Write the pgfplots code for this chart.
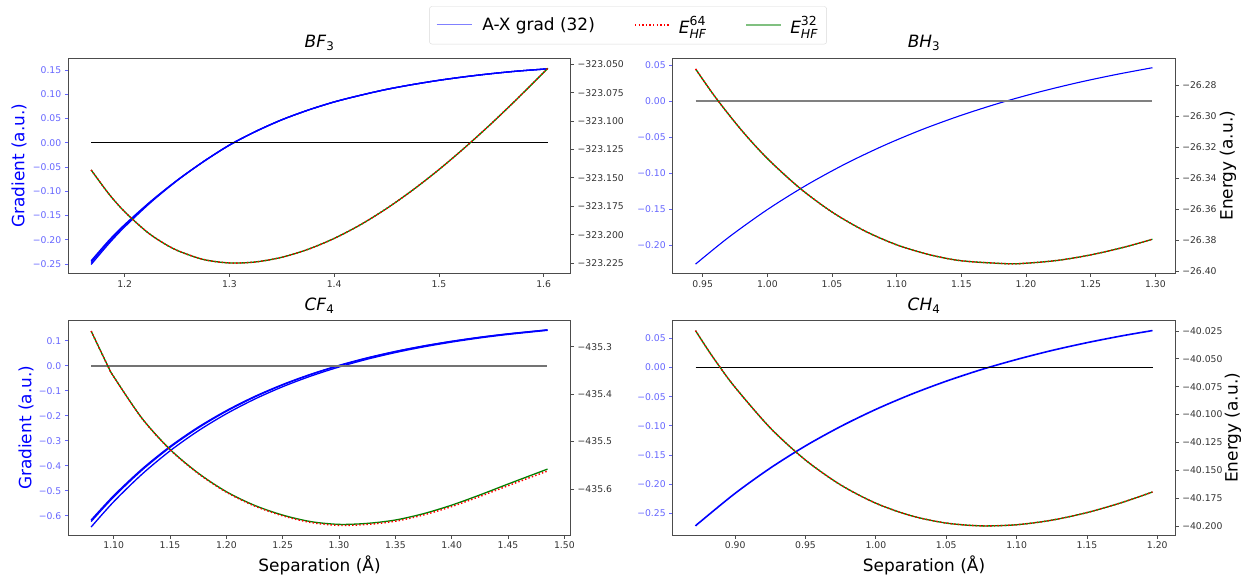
\documentclass[border=0pt]{standalone}
\usepackage{fontspec}
\setmainfont{DejaVu Sans}
\usepackage{pgfplots}
\pgfplotsset{compat=1.18}
\definecolor{mgreen}{RGB}{0,128,0}
\definecolor{lblue}{RGB}{128,128,255}
\definecolor{lgreen}{RGB}{128,192,128}
\newcommand{\ehf}[1]{\textit{E}\rlap{\raisebox{0.85ex}{\fontsize{12.5}{12.5}\selectfont #1}}\raisebox{-0.55ex}{\fontsize{12.5}{12.5}\selectfont\textit{HF}}}
\begin{document}
\begin{tikzpicture}
\pgfplotsset{
 base/.style={scale only axis, anchor=south west, tick align=outside,
   major tick length=3.5bp, axis line style={black!70, line width=0.8bp},
   tick style={line width=0.8bp},
   ticklabel style={font=\fontsize{9.3}{11}\selectfont},
   title style={font=\fontsize{17}{20}\selectfont},
   label style={font=\fontsize{17}{20}\selectfont}},
 gaxis/.style={base, xtick pos=left, ytick pos=left, yticklabel style={text=blue!60},
   ytick style={color=blue!60}, xticklabel style={text=black!80}, xtick style={color=black!70}},
 eaxis/.style={base, axis x line=none, axis y line*=right, ytick pos=right,
   yticklabel style={text=black!80}, ytick style={color=black!70}},
 grad/.style={blue, line width=1.3bp, smooth},
 e32/.style={mgreen, line width=1.3bp, smooth},
 e64/.style={red, line width=1.5bp, dash pattern=on 1.4bp off 2.2bp, smooth},
 legax/.style={hide axis, scale only axis, anchor=south west, at={(68.3bp,301.7bp)},
   width=502.4bp, height=215bp, xmin=0, xmax=1, ymin=0, ymax=1},
}
% ---------------- legend box and texts ----------------
\begin{axis}[legax,
  legend columns=3,
  legend style={at={(1.1141,1.1535)}, anchor=center, draw=black!15, rounded corners=2.5bp,
    fill=white, font=\fontsize{17}{20}\selectfont, inner xsep=9bp, inner ysep=8.5bp,
    nodes={inner xsep=0bp, inner ysep=1bp},
    /tikz/every odd column/.append style={column sep=9bp},
    /tikz/every even column/.append style={column sep=40bp}},
  legend image code/.code={\path (0bp,-1bp) rectangle (35bp,1bp);}]
\addlegendimage{draw=none}\addlegendentry{A-X grad (32)}
\addlegendimage{draw=none}\addlegendentry{\ehf{64}}
\addlegendimage{draw=none}\addlegendentry{\ehf{32}}
\end{axis}
% ---------------- legend handles (drawn as plots over the legend) ----------------
\begin{axis}[legax, clip=false]
\addplot[lblue, line width=1.3bp] coordinates {(0.7333,1.156) (0.8029,1.156)};
\addplot[red, line width=1.5bp, dash pattern=on 1.4bp off 2.2bp] coordinates {(1.1280,1.156) (1.1977,1.156)};
\addplot[lgreen, line width=1.5bp] coordinates {(1.3489,1.156) (1.4186,1.156)};
\end{axis}
% ---------------- BF3 ----------------
\begin{axis}[gaxis, at={(68.3bp,301.7bp)}, width=502.4bp, height=215bp,
  xmin=1.1462, xmax=1.6258, ymin=-0.2692, ymax=0.1741,
  xtick={1.2,1.3,1.4,1.5,1.6}, xticklabels={1.2,1.3,1.4,1.5,1.6},
  ytick={-0.25,-0.2,-0.15,-0.1,-0.05,0,0.05,0.1,0.15},
  yticklabels={−0.25,−0.20,−0.15,−0.10,−0.05,0.00,0.05,0.10,0.15},
  ylabel={Gradient (a.u.)}, ylabel style={text=blue, at={(axis description cs:-0.0981,0.5)}, anchor=center},
  title={\textit{BF}\textsubscript{3}}, title style={at={(axis description cs:0.5,1.0233)}, anchor=base}]
\addplot[grad] coordinates {(1.168,-0.2435) (1.185,-0.2013) (1.20,-0.1688) (1.225,-0.1206) (1.25,-0.0776) (1.275,-0.0393) (1.30,-0.0049) (1.325,0.0232) (1.35,0.0473) (1.375,0.0672) (1.40,0.0841) (1.425,0.0978) (1.45,0.1100) (1.475,0.1200) (1.50,0.1287) (1.525,0.1361) (1.55,0.1424) (1.575,0.1477) (1.604,0.1524)};
\addplot[grad] coordinates {(1.168,-0.247) (1.185,-0.2043) (1.20,-0.171) (1.225,-0.1216) (1.25,-0.0779) (1.275,-0.0393) (1.30,-0.0049) (1.325,0.0232) (1.35,0.0473) (1.375,0.0672) (1.40,0.0841) (1.425,0.0978) (1.45,0.1100) (1.475,0.1200) (1.50,0.1287) (1.525,0.1361) (1.55,0.1424) (1.575,0.1477) (1.604,0.1524)};
\addplot[grad] coordinates {(1.168,-0.251) (1.185,-0.2078) (1.20,-0.1735) (1.225,-0.1228) (1.25,-0.0782) (1.275,-0.0393) (1.30,-0.0049) (1.325,0.0232) (1.35,0.0473) (1.375,0.0672) (1.40,0.0841) (1.425,0.0978) (1.45,0.1100) (1.475,0.1200) (1.50,0.1287) (1.525,0.1361) (1.55,0.1424) (1.575,0.1477) (1.604,0.1524)};
\addplot[black, line width=1bp] coordinates {(1.168,0) (1.604,0)};
\end{axis}
\begin{axis}[eaxis, at={(68.3bp,301.7bp)}, width=502.4bp, height=215bp,
  xmin=1.1462, xmax=1.6258, ymin=-323.234, ymax=-323.0447,
  ytick={-323.225,-323.2,-323.175,-323.15,-323.125,-323.1,-323.075,-323.05},
  yticklabels={−323.225,−323.200,−323.175,−323.150,−323.125,−323.100,−323.075,−323.050}]
\addplot[e32] coordinates {(1.168,-323.143) (1.185,-323.1642) (1.20,-323.1798) (1.22,-323.1966) (1.234,-323.2057) (1.25,-323.2138) (1.275,-323.2218) (1.30,-323.2249) (1.325,-323.224) (1.35,-323.2199) (1.375,-323.2129) (1.40,-323.2033) (1.425,-323.1913) (1.45,-323.177) (1.475,-323.1607) (1.50,-323.1427) (1.525,-323.1231) (1.55,-323.1022) (1.575,-323.0801) (1.604,-323.0535)};
\addplot[e64] coordinates {(1.168,-323.143) (1.185,-323.1642) (1.20,-323.1798) (1.22,-323.1966) (1.234,-323.2057) (1.25,-323.2138) (1.275,-323.2218) (1.30,-323.2249) (1.325,-323.224) (1.35,-323.2199) (1.375,-323.2129) (1.40,-323.2033) (1.425,-323.1913) (1.45,-323.177) (1.475,-323.1607) (1.50,-323.1427) (1.525,-323.1231) (1.55,-323.1022) (1.575,-323.0801) (1.604,-323.0535)};
\end{axis}
% ---------------- BH3 ----------------
\begin{axis}[gaxis, at={(672.7bp,301.7bp)}, width=502.6bp, height=215bp,
  xmin=0.9268, xmax=1.3154, ymin=-0.2393, ymax=0.0593,
  xtick={0.95,1.0,1.05,1.1,1.15,1.2,1.25,1.3}, xticklabels={0.95,1.00,1.05,1.10,1.15,1.20,1.25,1.30},
  ytick={-0.2,-0.15,-0.1,-0.05,0,0.05},
  yticklabels={−0.20,−0.15,−0.10,−0.05,0.00,0.05},
  title={\textit{BH}\textsubscript{3}}, title style={at={(axis description cs:0.5,1.0233)}, anchor=base}]
\addplot[grad, line width=1.1bp] coordinates {(0.9445,-0.2265) (0.97,-0.1894) (1.00,-0.1508) (1.03,-0.1171) (1.06,-0.0876) (1.09,-0.0619) (1.12,-0.0394) (1.15,-0.0198) (1.18,-0.0026) (1.21,0.0124) (1.24,0.0255) (1.27,0.0369) (1.2977,0.0462)};
\addplot[black!50, line width=2bp] coordinates {(0.9445,0) (1.2977,0)};
\end{axis}
\begin{axis}[eaxis, at={(672.7bp,301.7bp)}, width=502.6bp, height=215bp,
  xmin=0.9268, xmax=1.3154, ymin=-26.4015, ymax=-26.2625,
  ytick={-26.4,-26.38,-26.36,-26.34,-26.32,-26.3,-26.28},
  yticklabels={−26.40,−26.38,−26.36,−26.34,−26.32,−26.30,−26.28},
  ylabel={Energy (a.u.)}, ylabel style={at={(axis description cs:1.1049,0.5)}, anchor=center}]
\addplot[e32] coordinates {(0.9445,-26.2694) (0.96,-26.2879) (0.98,-26.3090) (1.00,-26.3273) (1.025,-26.3464) (1.05,-26.3619) (1.075,-26.3740) (1.10,-26.3831) (1.125,-26.3894) (1.15,-26.3934) (1.185,-26.3953) (1.20,-26.3950) (1.225,-26.3931) (1.25,-26.3896) (1.275,-26.3848) (1.2977,-26.3795)};
\addplot[e64] coordinates {(0.9445,-26.2694) (0.96,-26.2879) (0.98,-26.3090) (1.00,-26.3273) (1.025,-26.3464) (1.05,-26.3619) (1.075,-26.3740) (1.10,-26.3831) (1.125,-26.3894) (1.15,-26.3934) (1.185,-26.3953) (1.20,-26.3950) (1.225,-26.3931) (1.25,-26.3896) (1.275,-26.3848) (1.2977,-26.3795)};
\end{axis}
% ---------------- CF4 ----------------
\begin{axis}[gaxis, at={(68.3bp,40bp)}, width=502.4bp, height=214.3bp,
  xmin=1.0597, xmax=1.5056, ymin=-0.677, ymax=0.18,
  xtick={1.1,1.15,1.2,1.25,1.3,1.35,1.4,1.45,1.5}, xticklabels={1.10,1.15,1.20,1.25,1.30,1.35,1.40,1.45,1.50},
  ytick={-0.6,-0.5,-0.4,-0.3,-0.2,-0.1,0,0.1},
  yticklabels={−0.6,−0.5,−0.4,−0.3,−0.2,−0.1,0.0,0.1},
  ylabel={Gradient (a.u.)}, ylabel style={text=blue, at={(axis description cs:-0.0842,0.5)}, anchor=center},
  xlabel={Separation (Å)}, xlabel style={at={(axis description cs:0.5,-0.140)}, anchor=center},
  title={\textit{CF}\textsubscript{4}}, title style={at={(axis description cs:0.5,1.019)}, anchor=base}]
\addplot[grad] coordinates {(1.08,-0.617) (1.10,-0.5194) (1.125,-0.4136) (1.15,-0.3229) (1.175,-0.2456) (1.20,-0.1796) (1.225,-0.1231) (1.25,-0.0750) (1.275,-0.0338) (1.30,0.0014) (1.325,0.0315) (1.35,0.0572) (1.375,0.0791) (1.40,0.0978) (1.425,0.1139) (1.45,0.1275) (1.485,0.1434)};
\addplot[grad] coordinates {(1.08,-0.623) (1.10,-0.5246) (1.125,-0.4180) (1.15,-0.3267) (1.175,-0.2488) (1.20,-0.1823) (1.225,-0.1254) (1.25,-0.0769) (1.275,-0.0354) (1.30,0.0000) (1.325,0.0303) (1.35,0.0562) (1.375,0.0783) (1.40,0.0971) (1.425,0.1133) (1.45,0.1270) (1.485,0.1430)};
\addplot[grad] coordinates {(1.08,-0.645) (1.10,-0.5439) (1.125,-0.4343) (1.15,-0.3405) (1.175,-0.2605) (1.20,-0.1922) (1.225,-0.1338) (1.25,-0.0840) (1.275,-0.0414) (1.30,-0.0051) (1.325,0.0260) (1.35,0.0526) (1.375,0.0752) (1.40,0.0945) (1.425,0.1111) (1.45,0.1251) (1.485,0.1415)};
\addplot[black!55, line width=1.6bp] coordinates {(1.08,0) (1.485,0)};
\end{axis}
\begin{axis}[eaxis, at={(68.3bp,40bp)}, width=502.4bp, height=214.3bp,
  xmin=1.0597, xmax=1.5056, ymin=-435.697, ymax=-435.245,
  ytick={-435.6,-435.5,-435.4,-435.3},
  yticklabels={−435.6,−435.5,−435.4,−435.3}]
\addplot[e32] coordinates {(1.08,-435.267) (1.095,-435.3415) (1.10,-435.363) (1.125,-435.4505) (1.15,-435.5165) (1.175,-435.5665) (1.20,-435.6057) (1.225,-435.6345) (1.25,-435.655) (1.275,-435.6688) (1.30,-435.6746) (1.325,-435.6725) (1.35,-435.6654) (1.375,-435.652) (1.40,-435.634) (1.425,-435.6125) (1.45,-435.5895) (1.485,-435.558)};
\addplot[e64] coordinates {(1.08,-435.267) (1.095,-435.3415) (1.10,-435.3632) (1.125,-435.4509) (1.15,-435.5171) (1.175,-435.5673) (1.20,-435.6067) (1.225,-435.6358) (1.25,-435.6565) (1.275,-435.6706) (1.30,-435.6766) (1.325,-435.6747) (1.35,-435.6679) (1.375,-435.6547) (1.40,-435.637) (1.425,-435.6157) (1.45,-435.593) (1.485,-435.562)};
\end{axis}
% ---------------- CH4 ----------------
\begin{axis}[gaxis, at={(672.7bp,40bp)}, width=502.6bp, height=214.3bp,
  xmin=0.8556, xmax=1.2128, ymin=-0.2872, ymax=0.0802,
  xtick={0.9,0.95,1.0,1.05,1.1,1.15,1.2}, xticklabels={0.90,0.95,1.00,1.05,1.10,1.15,1.20},
  ytick={-0.25,-0.2,-0.15,-0.1,-0.05,0,0.05},
  yticklabels={−0.25,−0.20,−0.15,−0.10,−0.05,0.00,0.05},
  xlabel={Separation (Å)}, xlabel style={at={(axis description cs:0.5,-0.140)}, anchor=center},
  title={\textit{CH}\textsubscript{4}}, title style={at={(axis description cs:0.5,1.019)}, anchor=base}]
\addplot[grad, line width=1.6bp] coordinates {(0.8718,-0.2717) (0.875,-0.2649) (0.90,-0.2157) (0.925,-0.1724) (0.95,-0.1344) (0.975,-0.1011) (1.00,-0.0718) (1.025,-0.0461) (1.05,-0.0235) (1.075,-0.0036) (1.10,0.0137) (1.125,0.0291) (1.15,0.0425) (1.175,0.0543) (1.1966,0.0633)};
\addplot[black, line width=1bp] coordinates {(0.8718,0) (1.1966,0)};
\end{axis}
\begin{axis}[eaxis, at={(672.7bp,40bp)}, width=502.6bp, height=214.3bp,
  xmin=0.8556, xmax=1.2128, ymin=-40.2081, ymax=-40.0158,
  ytick={-40.2,-40.175,-40.15,-40.125,-40.1,-40.075,-40.05,-40.025},
  yticklabels={−40.200,−40.175,−40.150,−40.125,−40.100,−40.075,−40.050,−40.025},
  ylabel={Energy (a.u.)}, ylabel style={at={(axis description cs:1.1148,0.5)}, anchor=center}]
\addplot[e32] coordinates {(0.8718,-40.0247) (0.88,-40.0407) (0.888,-40.0554) (0.90,-40.0757) (0.925,-40.1121) (0.95,-40.1409) (0.975,-40.1632) (1.00,-40.1796) (1.025,-40.1908) (1.05,-40.1974) (1.075,-40.1999) (1.10,-40.1989) (1.125,-40.1948) (1.15,-40.1880) (1.175,-40.1789) (1.1966,-40.1695)};
\addplot[e64] coordinates {(0.8718,-40.0247) (0.88,-40.0407) (0.888,-40.0554) (0.90,-40.0757) (0.925,-40.1121) (0.95,-40.1409) (0.975,-40.1632) (1.00,-40.1796) (1.025,-40.1908) (1.05,-40.1974) (1.075,-40.1999) (1.10,-40.1989) (1.125,-40.1948) (1.15,-40.1880) (1.175,-40.1789) (1.1966,-40.1695)};
\end{axis}
\pgfresetboundingbox
\useasboundingbox (0,0) rectangle (1242bp,575bp);
\end{tikzpicture}
\end{document}
